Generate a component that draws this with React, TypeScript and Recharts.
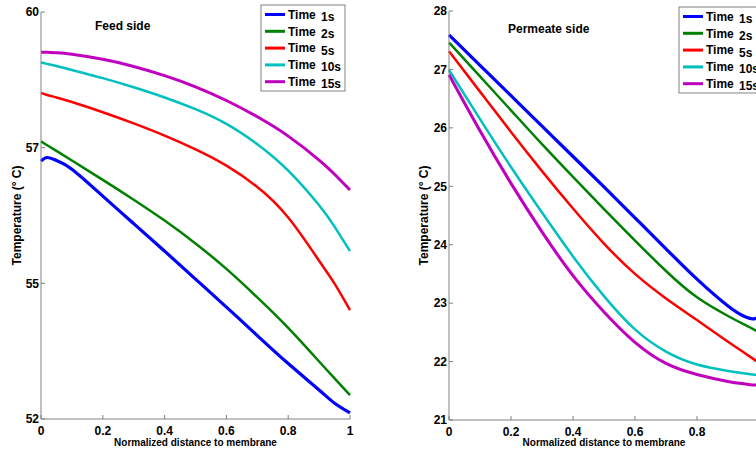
import React from 'react'
import { LineChart, Line, XAxis, YAxis } from 'recharts'

const seriesNames = ['1s', '2s', '5s', '10s', '15s']
const seriesColors = ['#0000ff', '#008000', '#ff0000', '#00bfbf', '#bf00bf']
const seriesWidths = [3.2, 2.5, 2.5, 2.5, 3]

const xTicks = [0, 0.2, 0.4, 0.6, 0.8, 1]

// feed side
const feedX = [0, 0.02, 0.05, 0.1, 0.2, 0.3, 0.4, 0.5, 0.6, 0.7, 0.8, 0.9, 0.95, 1]
const feed1s = [57.07, 57.14, 57.08, 56.91, 56.38, 55.84, 55.3, 54.75, 54.2, 53.64, 53.09, 52.57, 52.31, 52.12]
const feed2s = [57.46, 57.38, 57.27, 57.08, 56.7, 56.31, 55.9, 55.45, 54.95, 54.39, 53.79, 53.13, 52.8, 52.47]
const feed5s = [58.41, 58.37, 58.32, 58.23, 58.03, 57.81, 57.57, 57.3, 56.98, 56.56, 55.96, 55.11, 54.66, 54.14]
const feed10s = [59.01, 58.98, 58.94, 58.86, 58.7, 58.52, 58.32, 58.09, 57.8, 57.4, 56.88, 56.2, 55.78, 55.3]
const feed15s = [59.21, 59.21, 59.2, 59.17, 59.07, 58.93, 58.75, 58.53, 58.26, 57.94, 57.56, 57.09, 56.81, 56.5]
const feedYTicks = [52, 52 + 8 / 3, 52 + 16 / 3, 60]

// permeate side
const permX = [0, 0.1, 0.2, 0.3, 0.4, 0.5, 0.6, 0.7, 0.8, 0.9, 0.95, 0.98, 1]
const perm1s = [27.59, 27.07, 26.55, 26.03, 25.51, 24.99, 24.46, 23.93, 23.41, 22.95, 22.78, 22.73, 22.77]
const perm2s = [27.46, 26.88, 26.3, 25.72, 25.16, 24.61, 24.07, 23.55, 23.1, 22.78, 22.64, 22.56, 22.5]
const perm5s = [27.31, 26.62, 25.93, 25.26, 24.62, 24.02, 23.5, 23.08, 22.71, 22.34, 22.16, 22.05, 21.98]
const perm10s = [26.99, 26.15, 25.33, 24.55, 23.8, 23.12, 22.55, 22.17, 21.95, 21.84, 21.8, 21.78, 21.77]
const perm15s = [26.91, 25.95, 25.05, 24.22, 23.47, 22.85, 22.33, 21.97, 21.78, 21.66, 21.62, 21.6, 21.6]
const permYTicks = [21, 22, 23, 24, 25, 26, 27, 28]

const font = '"Liberation Sans", Arial, sans-serif'
const axisGray = '#808080'

function toRows(xs: number[], series: number[][]) {
  return xs.map((x, i) => {
    const row: Record<string, number> = { x }
    series.forEach((s, k) => (row[seriesNames[k]] = s[i]))
    return row
  })
}

function LegendBox({ x, y }: { x: number; y: number }) {
  return (
    <g>
      <rect x={x} y={y} width={84} height={86} fill="#fff" stroke={axisGray} strokeWidth={1} />
      {seriesNames.map((name, i) => {
        const cy = y + 9.5 + i * 16.8
        return (
          <g key={name}>
            <line x1={x + 4} x2={x + 24} y1={cy} y2={cy} stroke={seriesColors[i]} strokeWidth={3} />
            <text x={x + 27} y={cy + 4.3} fontSize={12} fontWeight="bold" fontFamily={font} fill="#000">
              Time
            </text>
            <text x={x + 60} y={cy + 6.5} fontSize={12} fontWeight="bold" fontFamily={font} fill="#000">
              {name}
            </text>
          </g>
        )
      })}
    </g>
  )
}

interface PanelProps {
  rows: Record<string, number>[]
  width: number
  height: number
  margin: { top: number; right: number; bottom: number; left: number }
  yAxisWidth: number
  xAxisHeight: number
  yDomain: [number, number]
  yTicks: number[]
  yLabelDx: number
  title: string
  titleX: number
  titleY: number
  legendX: number
  legendY: number
}

function Panel(p: PanelProps) {
  return (
    <LineChart width={p.width} height={p.height} data={p.rows} margin={p.margin}>
      <XAxis
        dataKey="x"
        type="number"
        domain={[0, 1]}
        ticks={xTicks}
        height={p.xAxisHeight}
        stroke={axisGray}
        tickSize={-4}
        tickMargin={11}
        tick={{ fill: '#000', fontSize: 12, fontWeight: 'bold', fontFamily: font }}
        label={{
          value: 'Normalized distance to membrane',
          position: 'insideBottom',
          offset: 9,
          fill: '#000',
          fontSize: 10,
          fontWeight: 'bold',
          fontFamily: font,
        }}
      />
      <YAxis
        type="number"
        domain={p.yDomain}
        ticks={p.yTicks}
        width={p.yAxisWidth}
        stroke={axisGray}
        tickSize={-4}
        tickMargin={6}
        interval={0}
        tickFormatter={v => String(Math.round(v))}
        tick={{ fill: '#000', fontSize: 12, fontWeight: 'bold', fontFamily: font }}
        label={{
          value: 'Temperature (° C)',
          angle: -90,
          position: 'center',
          dx: p.yLabelDx,
          fill: '#000',
          fontSize: 12,
          fontWeight: 'bold',
          fontFamily: font,
        }}
      />
      {seriesNames.map((name, i) => (
        <Line
          key={name}
          dataKey={name}
          type="natural"
          stroke={seriesColors[i]}
          strokeWidth={seriesWidths[i]}
          dot={false}
          activeDot={false}
          isAnimationActive={false}
        />
      ))}
      <text x={p.titleX} y={p.titleY} fontSize={12} fontWeight="bold" fontFamily={font} fill="#000">
        {p.title}
      </text>
      <LegendBox x={p.legendX} y={p.legendY} />
    </LineChart>
  )
}

export default function App() {
  const feedRows = toRows(feedX, [feed1s, feed2s, feed5s, feed10s, feed15s])
  const permRows = toRows(permX, [perm1s, perm2s, perm5s, perm10s, perm15s])
  return (
    <div
      style={{
        position: 'fixed',
        left: 0,
        top: 0,
        width: 756,
        height: 455,
        overflow: 'hidden',
        background: '#fff',
      }}
    >
      <div style={{ position: 'absolute', left: 0, top: 0 }}>
        <Panel
          rows={feedRows}
          width={400}
          height={455}
          margin={{ top: 12, right: 50, bottom: 0, left: 0 }}
          yAxisWidth={41}
          xAxisHeight={36}
          yDomain={[52, 60]}
          yTicks={feedYTicks}
          yLabelDx={-3.5}
          title="Feed side"
          titleX={95}
          titleY={30}
          legendX={261}
          legendY={5}
        />
      </div>
      <div style={{ position: 'absolute', left: 400, top: 0 }}>
        <Panel
          rows={permRows}
          width={370}
          height={455}
          margin={{ top: 11, right: 11, bottom: 0, left: 0 }}
          yAxisWidth={49}
          xAxisHeight={35}
          yDomain={[21, 28]}
          yTicks={permYTicks}
          yLabelDx={-0.5}
          title="Permeate side"
          titleX={108}
          titleY={32.5}
          legendX={279}
          legendY={7}
        />
      </div>
    </div>
  )
}
